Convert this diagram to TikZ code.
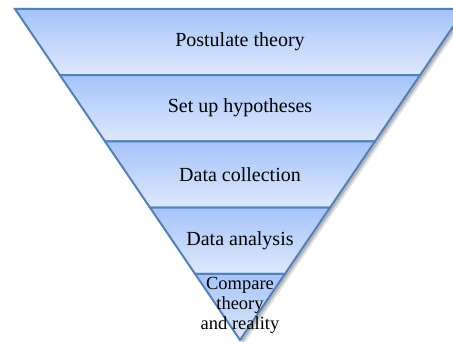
\documentclass[tikz,border=0pt]{standalone}
\usepackage{fontspec}
\setmainfont{Liberation Serif}
\usetikzlibrary{calc}
\definecolor{edgeblue}{HTML}{4F81BD}
\definecolor{bandtop}{HTML}{A5C3FA}
\definecolor{bandbot}{HTML}{DEE9FC}
\tikzset{
  band/.style={top color=bandtop, bottom color=bandbot, draw=edgeblue, line width=2pt, line join=miter},
  lbl/.style={font=\fontsize{20}{21}\selectfont, text=black, align=center, inner sep=0pt},
  lblsmall/.style={font=\fontsize{18.5}{20}\selectfont, text=black, align=center, inner sep=0pt}
}
\begin{document}
\begin{tikzpicture}[x=1pt,y=1pt]
\useasboundingbox (0,0) rectangle (453,342);
\coordinate (TL) at (15,333);
\coordinate (TR) at (465,333);
\coordinate (A) at (240,2);
\foreach \i in {0,1,2,3,4,5}{
  \coordinate (L\i) at ($(TL)!{\i/5}!(A)$);
  \coordinate (R\i) at ($(TR)!{\i/5}!(A)$);
}
% shadow
\fill[black, opacity=0.18] ($(TL)+(2.5,-2.5)$) -- ($(TR)+(2.5,-2.5)$) -- ($(A)+(2.5,-2.5)$) -- cycle;
\fill[black, opacity=0.12] ($(TL)+(4,-4)$) -- ($(TR)+(4,-4)$) -- ($(A)+(4,-4)$) -- cycle;
% bands
\shade[band] (L0) -- (R0) -- (R1) -- (L1) -- cycle;
\shade[band] (L1) -- (R1) -- (R2) -- (L2) -- cycle;
\shade[band] (L2) -- (R2) -- (R3) -- (L3) -- cycle;
\shade[band] (L3) -- (R3) -- (R4) -- (L4) -- cycle;
\shade[band] (L4) -- (R4) -- (A) -- cycle;
% labels
\node[lbl] (t1) at (240,300) {Postulate theory};
\node[lbl] (t2) at (240,234) {Set up hypotheses};
\node[lbl] (t3) at (240,167) {Data collection};
\node[lbl] (t4) at (240,101) {Data analysis};
\node[lblsmall] (t5) at (240,37) {Compare\\theory\\and reality};
\end{tikzpicture}
\end{document}
